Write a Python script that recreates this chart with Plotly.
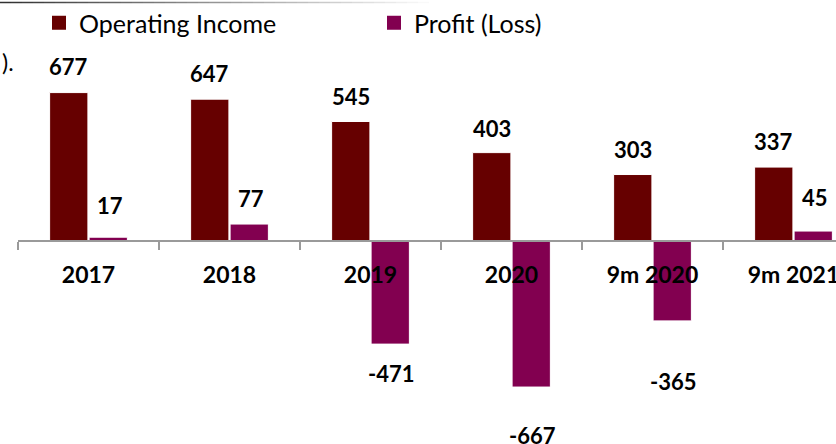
import plotly.graph_objects as go

categories = ["2017", "2018", "2019", "2020", "9m 2020", "9m 2021"]
operating_income = [677, 647, 545, 403, 303, 337]
profit_loss = [17, 77, -471, -667, -365, 45]

# label offsets in pixels (style only)
oi_label_shift = [26, 26, 25, 24, 25, 26]
pl_label_shift = [32, 26, -29, -48, -61, 34]

W, H = 836, 444
ML = 18
FONT = "Lato"
DARK = "#660000"
PURP = "#820050"

px_per_unit = 0.2201
zero_px = 240
ymax = zero_px / px_per_unit
ymin = -(H - zero_px) / px_per_unit

fig = go.Figure()
fig.add_trace(go.Bar(name="Operating Income", x=categories, y=operating_income,
                     showlegend=False,
                     marker=dict(color=DARK, line=dict(color="white", width=1))))
fig.add_trace(go.Bar(name="Profit (Loss)", x=categories, y=profit_loss,
                     showlegend=False,
                     marker=dict(color=PURP, line=dict(color="white", width=1))))
# legend swatches
for nm, col in [("Operating Income", DARK), ("Profit (Loss)", PURP)]:
    fig.add_trace(go.Scatter(name=nm, x=[None], y=[None], mode="markers",
                             marker=dict(symbol="square", size=14, color=col),
                             showlegend=True))

ann = []
for i, c in enumerate(categories):
    ann.append(dict(x=i, xshift=-20, y=operating_income[i], yshift=oi_label_shift[i],
                    text=str(operating_income[i]), showarrow=False,
                    font=dict(family=FONT, size=22, color="black", weight="bold")))
    v = profit_loss[i]
    ann.append(dict(x=i, xshift=21, y=v, yshift=pl_label_shift[i],
                    text=str(v), showarrow=False,
                    font=dict(family=FONT, size=22, color="black", weight="bold")))
ann.append(dict(xref="paper", yref="paper", x=-ML / (W - ML), xanchor="left",
                y=1 - 60 / H, yanchor="middle", text=").", showarrow=False,
                font=dict(family=FONT, size=23, color="black")))

shapes = []
nseg = 40
x_end = 440
for k in range(nseg):
    p0 = k * x_end / nseg
    p1 = (k + 1) * x_end / nseg
    g = int(50 + (255 - 50) * (k / (nseg - 1)))
    shapes.append(dict(type="line", xref="paper", yref="paper",
                       x0=(p0 - ML) / (W - ML), x1=(p1 - ML) / (W - ML),
                       y0=1 - 0.5 / H, y1=1 - 0.5 / H,
                       line=dict(color=f"rgb({g},{g},{g})", width=1.5)))

ncat_visible = (W - ML) / 141.0
fig.update_layout(
    width=W, height=H,
    margin=dict(l=ML, r=0, t=0, b=0),
    paper_bgcolor="white", plot_bgcolor="white",
    barmode="group", bargap=0.44, bargroupgap=0.03,
    font=dict(family=FONT, color="black"),
    legend=dict(orientation="h", x=(39 - ML) / (W - ML), xanchor="left",
                y=1 + 2 / H, yanchor="top",
                font=dict(family=FONT, size=25, color="black"),
                entrywidth=290, entrywidthmode="pixels",
                bgcolor="rgba(0,0,0,0)"),
    annotations=ann,
    shapes=shapes,
    xaxis=dict(range=[-0.5, -0.5 + ncat_visible], showgrid=False,
               showline=True, linecolor="#9a9a9a", linewidth=1.5,
               ticks="outside", tickson="boundaries", ticklen=8,
               tickcolor="#9a9a9a", tickwidth=1.5,
               anchor="free", position=1 - zero_px / H,
               tickfont=dict(family=FONT, size=23, color="black", weight="bold"),
               ticklabelstandoff=14, automargin=False),
    yaxis=dict(range=[ymin, ymax], visible=False, showgrid=False, zeroline=False),
)

fig.write_html("out.html", config={"displayModeBar": False},
               post_script="document.body.style.margin='0';")
